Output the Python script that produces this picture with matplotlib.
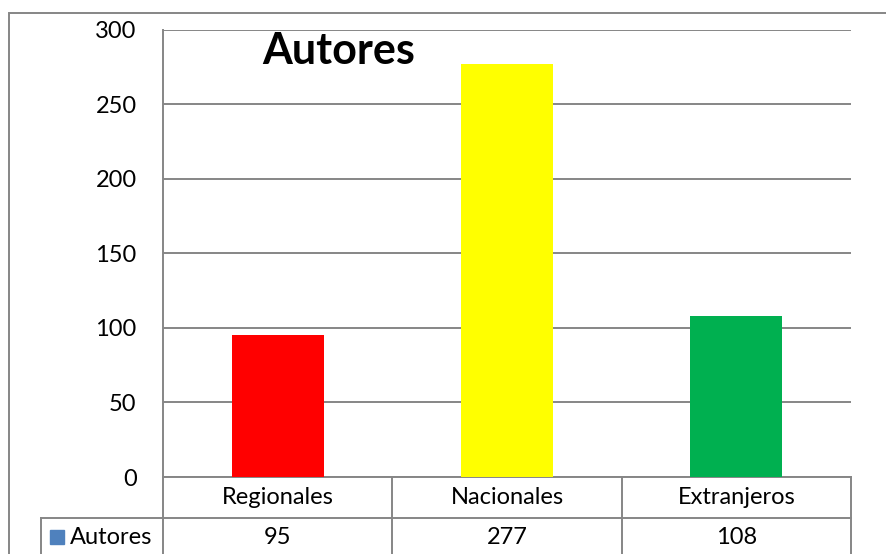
import matplotlib.pyplot as plt
from matplotlib.patches import Rectangle

plt.rcParams['font.family'] = ['Lato', 'DejaVu Sans']

categories = ['Regionales', 'Nacionales', 'Extranjeros']
values = [95, 277, 108]
bar_colors = ['#FF0000', '#FFFF00', '#00B050']
series_name = 'Autores'
yticks = [0, 50, 100, 150, 200, 250, 300]

W, H = 887, 554
grid_c = '#868686'
fs = 17

fig = plt.figure(figsize=(W / 100, H / 100), dpi=100)

# outer chart frame (cut off at right and bottom like the screenshot)
fig.patches.append(Rectangle((9 / W, -0.1), 1.2, 1.1 - 13 / H, transform=fig.transFigure,
                             fill=False, edgecolor=grid_c, lw=1.4))

ax = fig.add_axes([163 / W, 77 / H, 688 / W, 447.5 / H])
x = range(len(categories))
ax.bar(x, values, width=0.4, color=bar_colors, zorder=3)
ax.set_xlim(-0.5, len(categories) - 0.5)
ax.set_ylim(0, 300)
ax.set_yticks(yticks)
ax.set_xticks([])
ax.yaxis.grid(True, color=grid_c, lw=1.4)
ax.set_axisbelow(True)
ax.tick_params(axis='y', length=0, pad=19, labelsize=fs)
for s in ['top', 'right', 'bottom']:
    ax.spines[s].set_visible(False)
ax.spines['left'].set_color(grid_c)
ax.spines['left'].set_linewidth(1.4)

ax.text(0.256, 0.953, 'Autores', transform=ax.transAxes, ha='center', va='center',
        fontsize=31, fontweight='bold', zorder=5)

# data table under the plot
row_h = 41 / 447.5
left_cell = (41 - 163) / 688
tr = ax.get_xaxis_transform()
kw = dict(color=grid_c, lw=1.4, clip_on=False)
ax.plot([-0.5, 2.5], [0, 0], transform=tr, **kw)
ax.plot([left_cell, 1], [-row_h, -row_h], transform=ax.transAxes, **kw)
ax.plot([left_cell, 1], [-2 * row_h, -2 * row_h], transform=ax.transAxes, **kw)
ax.plot([left_cell, left_cell], [-row_h, -2.2 * row_h], transform=ax.transAxes, **kw)
ax.plot([0, 0], [0, -2.2 * row_h], transform=ax.transAxes, **kw)
for i in x:
    ax.plot([i + 0.5, i + 0.5], [0, -2.2 * row_h], transform=tr, **kw)
    ax.text(i, -0.5 * row_h, categories[i], transform=tr, ha='center', va='center', fontsize=fs)
    ax.text(i, -1.47 * row_h, str(values[i]), transform=tr, ha='center', va='center', fontsize=fs)

ax.add_patch(Rectangle(((50 - 163) / 688, -1.47 * row_h - 7 / 447.5), 14 / 688, 14 / 447.5,
                       transform=ax.transAxes, color='#4F81BD', clip_on=False))
ax.text((70 - 163) / 688, -1.47 * row_h, series_name, transform=ax.transAxes,
        ha='left', va='center', fontsize=fs)

fig.savefig('out.png', dpi=100)
